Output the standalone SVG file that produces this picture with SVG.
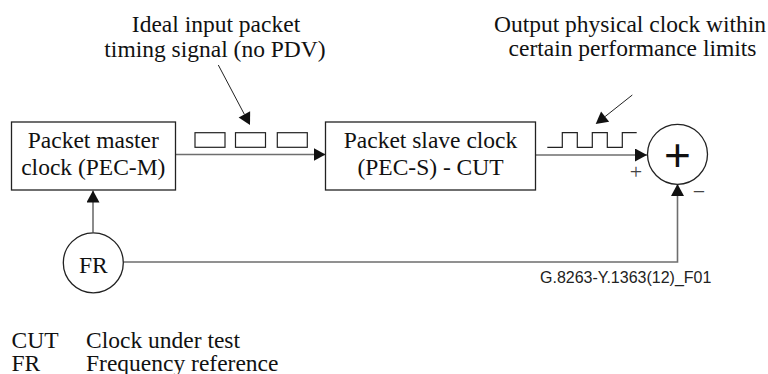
<svg xmlns="http://www.w3.org/2000/svg" width="768" height="374" viewBox="0 0 768 374">
<style>
.t{font-family:"Liberation Serif","Times New Roman",serif;font-size:23.5px;fill:#111}
.box{fill:#fff;stroke:#222;stroke-width:1.3}
.conn{fill:none;stroke:#6e6e6e;stroke-width:1.6}
.lbl{fill:none;stroke:#222;stroke-width:1}
.head{fill:#111}
.pkt{fill:#fff;stroke:#222;stroke-width:1.2}
.code{font-family:"Liberation Sans",Arial,sans-serif;font-size:16px;fill:#222}
</style>
<defs>
<marker id="ah" markerUnits="userSpaceOnUse" markerWidth="12" markerHeight="13" refX="12" refY="6.5" orient="auto" viewBox="0 0 12 13">
<path d="M0,0 L12,6.5 L0,13 z" fill="#111"/>
</marker>
</defs>
<rect width="768" height="374" fill="#fff"/>
<g id="connectors">
<line class="conn" x1="176" y1="154.5" x2="325.5" y2="154.5" marker-end="url(#ah)"/>
<line class="conn" x1="535.5" y1="155" x2="647" y2="155" marker-end="url(#ah)"/>
<line class="conn" x1="93" y1="232.5" x2="93" y2="190.5" marker-end="url(#ah)"/>
<polyline class="conn" points="123.3,262 677.5,262 677.5,184" marker-end="url(#ah)"/>
<line class="lbl" x1="218.3" y1="65" x2="244.4" y2="114.4"/>
<polygon class="head" points="250,125 238.65,117.44 250.15,111.36"/>
<line class="lbl" x1="632.3" y1="95" x2="605.1" y2="116.55"/>
<polygon class="head" points="595.7,124 601.06,111.45 609.14,121.65"/>
</g>
<g id="label-input">
<text class="t" x="216" y="32" text-anchor="middle">Ideal input packet</text>
<text class="t" x="215" y="56.5" text-anchor="middle">timing signal (no PDV)</text>
</g>
<g id="label-output">
<text class="t" x="630" y="32" text-anchor="middle">Output physical clock within</text>
<text class="t" x="632.5" y="55.5" text-anchor="middle">certain performance limits</text>
</g>
<g id="packets">
<rect class="pkt" x="195" y="132.7" width="30" height="14.6"/>
<rect class="pkt" x="235.5" y="132.7" width="30" height="14.6"/>
<rect class="pkt" x="277.3" y="132.7" width="30" height="14.6"/>
</g>
<g id="clock-wave">
<polyline fill="none" stroke="#222" stroke-width="1.2" points="547.3,147.3 562.3,147.3 562.3,132.7 577.3,132.7 577.3,147.3 592.3,147.3 592.3,132.7 607.3,132.7 607.3,147.3 622.3,147.3 622.3,132.7 636.7,132.7"/>
</g>
<g id="master">
<rect class="box" x="11.5" y="122" width="164" height="68"/>
<text class="t" x="93.3" y="148" text-anchor="middle">Packet master</text>
<text class="t" x="93.3" y="175" text-anchor="middle">clock (PEC-M)</text>
</g>
<g id="slave">
<rect class="box" x="325.5" y="122" width="210" height="68"/>
<text class="t" x="430.5" y="148" text-anchor="middle">Packet slave clock</text>
<text class="t" x="430.5" y="175" text-anchor="middle">(PEC-S) - CUT</text>
</g>
<g id="sum">
<circle class="box" cx="677.5" cy="154.3" r="30"/>
<text x="677.5" y="171" text-anchor="middle" font-family="Liberation Sans, Arial, sans-serif" font-size="46" fill="#111">+</text>
<text x="636" y="178.5" text-anchor="middle" font-family="Liberation Serif, serif" font-size="22" fill="#444">+</text>
<text x="699" y="199" text-anchor="middle" font-family="Liberation Serif, serif" font-size="22" fill="#444">−</text>
</g>
<g id="fr">
<circle class="box" cx="93.3" cy="262.8" r="30"/>
<text class="t" x="93.3" y="273" text-anchor="middle">FR</text>
</g>
<g id="figure-code">
<text class="code" x="540" y="283">G.8263-Y.1363(12)_F01</text>
</g>
<g id="legend">
<text class="t" x="11.5" y="348">CUT</text>
<text class="t" x="86" y="348">Clock under test</text>
<text class="t" x="11.5" y="370.5">FR</text>
<text class="t" x="86" y="370.5">Frequency reference</text>
</g>
</svg>
